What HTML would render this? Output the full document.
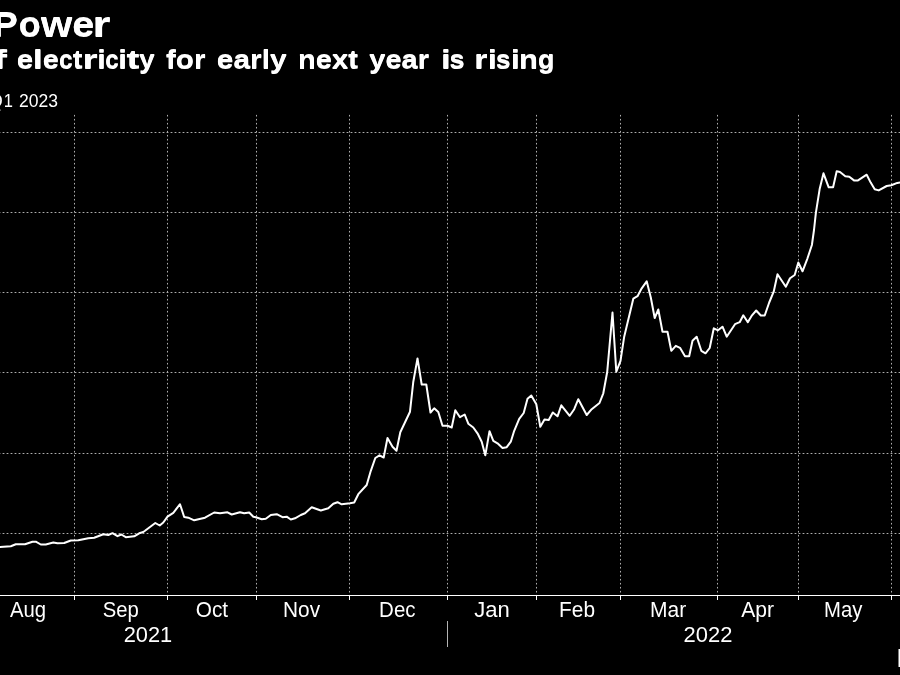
<!DOCTYPE html>
<html><head><meta charset="utf-8"><title>Power</title>
<style>
html,body{margin:0;padding:0;background:#000;}
body{width:900px;height:675px;overflow:hidden;font-family:"Liberation Sans",sans-serif;}
svg{display:block;position:absolute;left:0;top:0;will-change:transform;}
text{font-family:"Liberation Sans",sans-serif;fill:#fff;}
</style></head><body>
<svg width="900" height="675" viewBox="0 0 900 675">
<rect x="0" y="0" width="900" height="675" fill="#000"/>
<g stroke="#aeaeae" stroke-width="1" fill="none">
<line x1="74.5" y1="114.9" x2="74.5" y2="595" stroke-dasharray="1.6 2.4"/>
<line x1="167.5" y1="114.9" x2="167.5" y2="595" stroke-dasharray="1.6 2.4"/>
<line x1="256.5" y1="114.9" x2="256.5" y2="595" stroke-dasharray="1.6 2.4"/>
<line x1="349.5" y1="114.9" x2="349.5" y2="595" stroke-dasharray="1.6 2.4"/>
<line x1="447.5" y1="114.9" x2="447.5" y2="595" stroke-dasharray="1.6 2.4"/>
<line x1="536.5" y1="114.9" x2="536.5" y2="595" stroke-dasharray="1.6 2.4"/>
<line x1="620.5" y1="114.9" x2="620.5" y2="595" stroke-dasharray="1.6 2.4"/>
<line x1="717.5" y1="114.9" x2="717.5" y2="595" stroke-dasharray="1.6 2.4"/>
<line x1="798.5" y1="114.9" x2="798.5" y2="595" stroke-dasharray="1.6 2.4"/>
<line x1="891.5" y1="114.9" x2="891.5" y2="595" stroke-dasharray="1.6 2.4"/>
<line x1="-1.4" y1="132.5" x2="900" y2="132.5" stroke-dasharray="1.8 2.2"/>
<line x1="-1.4" y1="212.5" x2="900" y2="212.5" stroke-dasharray="1.8 2.2"/>
<line x1="-1.4" y1="292.5" x2="900" y2="292.5" stroke-dasharray="1.8 2.2"/>
<line x1="-1.4" y1="372.5" x2="900" y2="372.5" stroke-dasharray="1.8 2.2"/>
<line x1="-1.4" y1="453.5" x2="900" y2="453.5" stroke-dasharray="1.8 2.2"/>
<line x1="-1.4" y1="533.5" x2="900" y2="533.5" stroke-dasharray="1.8 2.2"/>
</g>
<line x1="0" y1="595.5" x2="900" y2="595.5" stroke="#fff" stroke-width="1" shape-rendering="crispEdges"/>
<g stroke="#fff" stroke-width="1" shape-rendering="crispEdges">
<line x1="74.5" y1="595" x2="74.5" y2="600" />
<line x1="167.5" y1="595" x2="167.5" y2="600" />
<line x1="256.5" y1="595" x2="256.5" y2="600" />
<line x1="349.5" y1="595" x2="349.5" y2="600" />
<line x1="447.5" y1="595" x2="447.5" y2="600" />
<line x1="536.5" y1="595" x2="536.5" y2="600" />
<line x1="620.5" y1="595" x2="620.5" y2="600" />
<line x1="717.5" y1="595" x2="717.5" y2="600" />
<line x1="798.5" y1="595" x2="798.5" y2="600" />
<line x1="891.5" y1="595" x2="891.5" y2="600" />
</g>
<line x1="447.5" y1="621" x2="447.5" y2="647" stroke="#b4b4b4" stroke-width="1" shape-rendering="crispEdges"/>
<polyline fill="none" stroke="#fff" stroke-width="2" stroke-linejoin="round" stroke-linecap="round" points="0.0,547.0 10.8,546.3 15.8,544.3 25.0,544.2 32.5,541.7 35.8,541.7 40.8,544.5 45.8,544.5 53.3,542.5 57.5,543.2 64.2,543.0 70.8,540.5 78.3,540.3 88.3,538.2 94.2,537.7 103.3,534.2 108.3,535.0 112.5,533.2 117.5,536.2 121.3,534.5 125.8,537.2 134.2,536.3 139.2,533.3 143.3,532.0 145.0,530.8 155.3,523.0 159.7,525.5 163.3,522.5 167.5,516.7 173.3,512.8 180.0,504.2 184.2,517.0 188.3,517.7 194.2,520.3 205.0,517.7 214.2,512.5 220.0,513.3 227.5,512.3 231.7,514.5 240.0,512.2 244.2,513.3 249.2,512.5 253.3,516.7 256.7,517.5 261.7,519.3 265.8,518.7 270.8,515.0 276.7,514.2 282.5,517.2 286.7,516.7 290.8,519.5 295.0,518.3 300.8,515.0 305.0,513.3 311.7,507.3 320.8,510.5 328.3,508.3 333.3,503.8 337.5,502.2 341.7,504.3 350.0,503.3 354.2,502.5 358.3,494.2 366.7,485.0 370.8,470.8 375.3,458.0 379.5,455.3 383.7,457.5 387.5,438.0 392.5,446.7 396.5,450.7 400.3,432.3 410.0,411.7 413.3,381.7 417.5,358.5 421.7,384.5 426.3,384.5 430.5,412.5 434.2,408.3 438.3,412.0 442.5,425.8 447.5,425.8 451.7,427.5 455.3,410.3 460.0,417.2 464.7,414.5 468.3,423.7 473.3,427.5 477.5,433.3 481.7,441.7 485.3,455.3 489.5,431.2 493.3,440.8 497.5,443.3 502.5,448.0 506.7,447.2 510.8,441.7 514.2,430.8 519.2,418.8 523.7,413.0 527.5,398.8 531.3,395.5 536.3,404.2 540.3,426.7 544.5,419.5 548.7,420.0 552.8,412.5 557.5,416.3 561.3,405.3 569.7,415.8 574.2,409.2 578.3,399.2 586.7,415.0 591.7,409.2 599.5,403.0 603.3,393.3 607.2,372.0 612.5,312.5 616.3,371.7 620.5,360.8 624.2,336.7 633.3,298.7 637.5,296.2 641.7,288.3 646.7,281.3 650.8,297.5 654.7,318.0 658.3,309.5 662.5,331.7 667.5,331.7 671.3,350.8 675.8,345.8 680.0,347.8 685.0,356.3 689.2,356.3 692.5,340.8 696.7,336.7 701.3,350.8 705.5,353.3 709.7,348.0 713.8,328.3 718.0,330.3 722.5,326.7 726.7,336.7 735.0,324.2 739.7,322.2 743.3,315.3 747.8,322.2 752.0,315.3 756.2,310.5 760.8,315.5 764.7,315.5 769.2,302.5 773.7,291.7 777.5,274.2 785.8,286.7 790.0,278.3 794.7,275.0 798.3,262.5 802.5,271.3 807.5,258.3 811.9,245.0 814.0,230.0 815.9,212.7 819.6,189.3 823.5,173.3 828.7,187.3 833.1,187.3 836.7,171.3 840.0,172.0 845.3,176.3 849.3,176.7 854.0,180.4 858.0,180.4 866.7,174.7 870.7,182.6 874.7,189.3 878.7,190.4 886.7,186.0 891.3,185.3 897.3,182.9 901.0,182.3"/>
<g>
<text transform="translate(9.96,616.80) scale(0.9111,1.0000)" font-size="22.3">Aug</text>
<text transform="translate(102.78,616.80) scale(0.9091,1.0000)" font-size="22.3">Sep</text>
<text transform="translate(195.82,616.80) scale(0.9321,1.0000)" font-size="22.3">Oct</text>
<text transform="translate(282.99,616.80) scale(0.9351,1.0000)" font-size="22.3">Nov</text>
<text transform="translate(379.12,616.80) scale(0.9184,1.0000)" font-size="22.3">Dec</text>
<text transform="translate(474.16,616.80) scale(0.9895,1.0000)" font-size="22.3">Jan</text>
<text transform="translate(559.09,616.80) scale(0.9366,1.0000)" font-size="22.3">Feb</text>
<text transform="translate(649.98,616.80) scale(0.9419,1.0000)" font-size="22.3">Mar</text>
<text transform="translate(741.26,616.80) scale(0.9449,1.0000)" font-size="22.3">Apr</text>
<text transform="translate(824.04,616.80) scale(0.9092,1.0000)" font-size="22.3">May</text>
<text transform="translate(123.70,642.10) scale(0.9575,1.0000)" font-size="22.8">2021</text>
<text transform="translate(683.60,642.10) scale(0.9623,1.0000)" font-size="22.8">2022</text>
<text transform="translate(18.69,36.00) scale(1.0068,1.0000)" font-size="35.8" font-weight="bold">o</text>
<text transform="translate(18.69,37.00) scale(1.0068,1.0000)" font-size="35.8" font-weight="bold">o</text>
<text transform="translate(41.12,36.00) scale(1.1206,1.0000)" font-size="35.8" font-weight="bold">w</text>
<text transform="translate(41.12,37.00) scale(1.1206,1.0000)" font-size="35.8" font-weight="bold">w</text>
<text transform="translate(72.26,36.00) scale(1.1048,1.0000)" font-size="35.8" font-weight="bold">e</text>
<text transform="translate(72.26,37.00) scale(1.1048,1.0000)" font-size="35.8" font-weight="bold">e</text>
<text transform="translate(92.56,36.00) scale(1.2874,1.0000)" font-size="35.8" font-weight="bold">r</text>
<text transform="translate(92.56,37.00) scale(1.2874,1.0000)" font-size="35.8" font-weight="bold">r</text>
<text transform="translate(-7.29,36.00) scale(1.0500,1)" font-size="35.8" font-weight="bold">P</text>
<text transform="translate(-7.29,37.00) scale(1.0500,1)" font-size="35.8" font-weight="bold">P</text>
<text transform="translate(16.84,68.00) scale(1.1302,1.0000)" font-size="26.2" font-weight="bold">e</text>
<text transform="translate(16.84,68.60) scale(1.1302,1.0000)" font-size="26.2" font-weight="bold">e</text>
<text transform="translate(32.66,68.00) scale(1.3909,1.0000)" font-size="26.2" font-weight="bold">l</text>
<text transform="translate(32.66,68.60) scale(1.3909,1.0000)" font-size="26.2" font-weight="bold">l</text>
<text transform="translate(42.87,68.00) scale(1.1065,1.0000)" font-size="26.2" font-weight="bold">e</text>
<text transform="translate(42.87,68.60) scale(1.1065,1.0000)" font-size="26.2" font-weight="bold">e</text>
<text transform="translate(59.04,68.00) scale(0.9390,1.0000)" font-size="26.2" font-weight="bold">c</text>
<text transform="translate(59.04,68.60) scale(0.9390,1.0000)" font-size="26.2" font-weight="bold">c</text>
<text transform="translate(72.64,68.00) scale(1.1132,1.0000)" font-size="26.2" font-weight="bold">t</text>
<text transform="translate(72.64,68.60) scale(1.1132,1.0000)" font-size="26.2" font-weight="bold">t</text>
<text transform="translate(82.43,68.00) scale(1.4866,1.0000)" font-size="26.2" font-weight="bold">r</text>
<text transform="translate(82.43,68.60) scale(1.4866,1.0000)" font-size="26.2" font-weight="bold">r</text>
<text transform="translate(97.36,68.00) scale(1.1683,1.0000)" font-size="26.2" font-weight="bold">i</text>
<text transform="translate(97.36,68.60) scale(1.1683,1.0000)" font-size="26.2" font-weight="bold">i</text>
<text transform="translate(105.26,68.00) scale(0.9233,1.0000)" font-size="26.2" font-weight="bold">c</text>
<text transform="translate(105.26,68.60) scale(0.9233,1.0000)" font-size="26.2" font-weight="bold">c</text>
<text transform="translate(118.31,68.00) scale(1.1962,1.0000)" font-size="26.2" font-weight="bold">i</text>
<text transform="translate(118.31,68.60) scale(1.1962,1.0000)" font-size="26.2" font-weight="bold">i</text>
<text transform="translate(126.53,68.00) scale(1.4842,1.0000)" font-size="26.2" font-weight="bold">t</text>
<text transform="translate(126.53,68.60) scale(1.4842,1.0000)" font-size="26.2" font-weight="bold">t</text>
<text transform="translate(139.28,68.00) scale(1.0544,1.0000)" font-size="26.2" font-weight="bold">y</text>
<text transform="translate(139.28,68.60) scale(1.0544,1.0000)" font-size="26.2" font-weight="bold">y</text>
<text transform="translate(165.99,68.00) scale(1.1297,1.0000)" font-size="26.2" font-weight="bold">for</text>
<text transform="translate(165.99,68.60) scale(1.1297,1.0000)" font-size="26.2" font-weight="bold">for</text>
<text transform="translate(216.83,68.00) scale(1.1412,1.0000)" font-size="26.2" font-weight="bold">early</text>
<text transform="translate(216.83,68.60) scale(1.1412,1.0000)" font-size="26.2" font-weight="bold">early</text>
<text transform="translate(298.08,68.00) scale(1.1095,1.0000)" font-size="26.2" font-weight="bold">next</text>
<text transform="translate(298.08,68.60) scale(1.1095,1.0000)" font-size="26.2" font-weight="bold">next</text>
<text transform="translate(369.27,68.00) scale(1.1068,1.0000)" font-size="26.2" font-weight="bold">year</text>
<text transform="translate(369.27,68.60) scale(1.1068,1.0000)" font-size="26.2" font-weight="bold">year</text>
<text transform="translate(441.06,68.00) scale(1.3353,1.0000)" font-size="26.2" font-weight="bold">i</text>
<text transform="translate(441.06,68.60) scale(1.3353,1.0000)" font-size="26.2" font-weight="bold">i</text>
<text transform="translate(449.55,68.00) scale(1.0338,1.0000)" font-size="26.2" font-weight="bold">s</text>
<text transform="translate(449.55,68.60) scale(1.0338,1.0000)" font-size="26.2" font-weight="bold">s</text>
<text transform="translate(474.25,68.00) scale(1.3007,1.0000)" font-size="26.2" font-weight="bold">r</text>
<text transform="translate(474.25,68.60) scale(1.3007,1.0000)" font-size="26.2" font-weight="bold">r</text>
<text transform="translate(487.71,68.00) scale(1.2518,1.0000)" font-size="26.2" font-weight="bold">i</text>
<text transform="translate(487.71,68.60) scale(1.2518,1.0000)" font-size="26.2" font-weight="bold">i</text>
<text transform="translate(496.08,68.00) scale(0.9940,1.0000)" font-size="26.2" font-weight="bold">s</text>
<text transform="translate(496.08,68.60) scale(0.9940,1.0000)" font-size="26.2" font-weight="bold">s</text>
<text transform="translate(510.71,68.00) scale(1.2518,1.0000)" font-size="26.2" font-weight="bold">i</text>
<text transform="translate(510.71,68.60) scale(1.2518,1.0000)" font-size="26.2" font-weight="bold">i</text>
<text transform="translate(518.95,68.00) scale(1.1856,1.0000)" font-size="26.2" font-weight="bold">n</text>
<text transform="translate(518.95,68.60) scale(1.1856,1.0000)" font-size="26.2" font-weight="bold">n</text>
<text transform="translate(537.90,68.00) scale(1.0245,1.0000)" font-size="26.2" font-weight="bold">g</text>
<text transform="translate(537.90,68.60) scale(1.0245,1.0000)" font-size="26.2" font-weight="bold">g</text>
<text transform="translate(-8.36,68.00) scale(1.7500,1)" font-size="26.2" font-weight="bold">f</text>
<text transform="translate(-8.36,68.60) scale(1.7500,1)" font-size="26.2" font-weight="bold">f</text>
<text transform="translate(19.02,106.80) scale(0.9753,1.0000)" font-size="18">2023</text>
<text transform="translate(3.65,106.80) scale(0.9149,1.0000)" font-size="18">1</text>
<text transform="translate(-11.14,106.80) scale(1.0000,1)" font-size="18">Q</text>
</g>
<rect x="898.5" y="649" width="1.5" height="18" fill="#fff"/>
</svg>
</body></html>
